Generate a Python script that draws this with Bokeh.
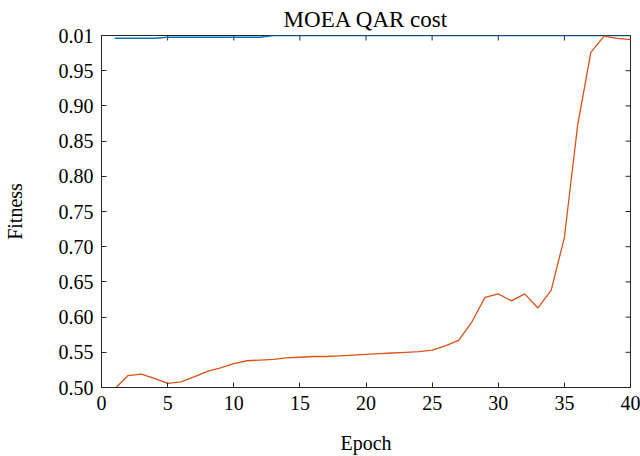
from bokeh.plotting import figure
from bokeh.models import FixedTicker, Range1d
from bokeh.embed import file_html
from bokeh.resources import INLINE

epochs = list(range(1, 41))
blue_fitness = [0.9962] * 4 + [0.9976] * 8 + [1.0] * 28
orange_fitness = [0.498, 0.517, 0.519, 0.513, 0.506, 0.508, 0.515, 0.523, 0.528, 0.534,
                  0.538, 0.539, 0.540, 0.542, 0.543, 0.544, 0.544, 0.545, 0.546, 0.547,
                  0.548, 0.549, 0.550, 0.551, 0.553, 0.559, 0.567, 0.593, 0.628, 0.633,
                  0.623, 0.633, 0.613, 0.638, 0.713, 0.872, 0.976, 0.999, 0.996, 0.994]
x_ticks = [0, 5, 10, 15, 20, 25, 30, 35, 40]
y_ticks = [0.50, 0.55, 0.60, 0.65, 0.70, 0.75, 0.80, 0.85, 0.90, 0.95, 1.00]
y_tick_labels = {0.5: "0.50", 0.55: "0.55", 0.6: "0.60", 0.65: "0.65", 0.7: "0.70",
                 0.75: "0.75", 0.8: "0.80", 0.85: "0.85", 0.9: "0.90", 0.95: "0.95", 1.0: "0.01"}

X_MIN, X_MAX = 0, 40
Y_MIN, Y_MAX = 0.5, 1.0

FONT = "Liberation Serif"
INK = "#262626"
W, H = 640, 456
BL, BR, BT, BB = 100, 10, 35, 68
TICK = 5

p = figure(width=W, height=H, output_backend="svg", toolbar_location=None,
           x_range=Range1d(X_MIN, X_MAX), y_range=Range1d(Y_MIN, Y_MAX),
           min_border_left=BL, min_border_right=BR, min_border_top=BT, min_border_bottom=BB,
           title="MOEA QAR cost")
p.title.align = "center"
p.title.offset = -12
p.title.text_font = FONT
p.title.text_font_size = "23px"
p.title.text_font_style = "normal"
p.title.text_color = "#000000"
p.title.standoff = 8

p.grid.visible = False
p.outline_line_color = INK
p.outline_line_width = 1

# inward ticks on the top and right edges of the box
frame_w = W - BL - BR
frame_h = H - BT - BB
dy = TICK / frame_h * (Y_MAX - Y_MIN)
dx = TICK / frame_w * (X_MAX - X_MIN)
p.segment(x0=x_ticks, y0=[Y_MAX] * len(x_ticks), x1=x_ticks, y1=[Y_MAX - dy] * len(x_ticks),
          line_color=INK, line_width=1)
p.segment(x0=[X_MAX] * len(y_ticks), y0=y_ticks, x1=[X_MAX - dx] * len(y_ticks), y1=y_ticks,
          line_color=INK, line_width=1)

p.line(epochs, blue_fitness, line_color="#0072BD", line_width=1.5)
p.line(epochs, orange_fitness, line_color="#D95319", line_width=1.3)

for ax in p.xaxis:
    ax.ticker = FixedTicker(ticks=x_ticks)
    ax.axis_label = "Epoch"
    ax.axis_label_standoff = 19
for ax in p.yaxis:
    ax.ticker = FixedTicker(ticks=y_ticks)
    ax.major_label_overrides = y_tick_labels
    ax.axis_label = "Fitness"
    ax.axis_label_standoff = 30

for ax in list(p.xaxis) + list(p.yaxis):
    ax.major_tick_in = TICK
    ax.major_tick_out = 0
    ax.minor_tick_in = 0
    ax.minor_tick_out = 0
    ax.major_label_standoff = 8
    ax.axis_line_color = INK
    ax.major_tick_line_color = INK
    ax.major_label_text_font = FONT
    ax.major_label_text_font_size = "20px"
    ax.major_label_text_color = "#000000"
    ax.axis_label_text_font = FONT
    ax.axis_label_text_font_size = "20px"
    ax.axis_label_text_font_style = "normal"
    ax.axis_label_text_color = "#000000"

open("out.html", "w").write(file_html(p, INLINE))
